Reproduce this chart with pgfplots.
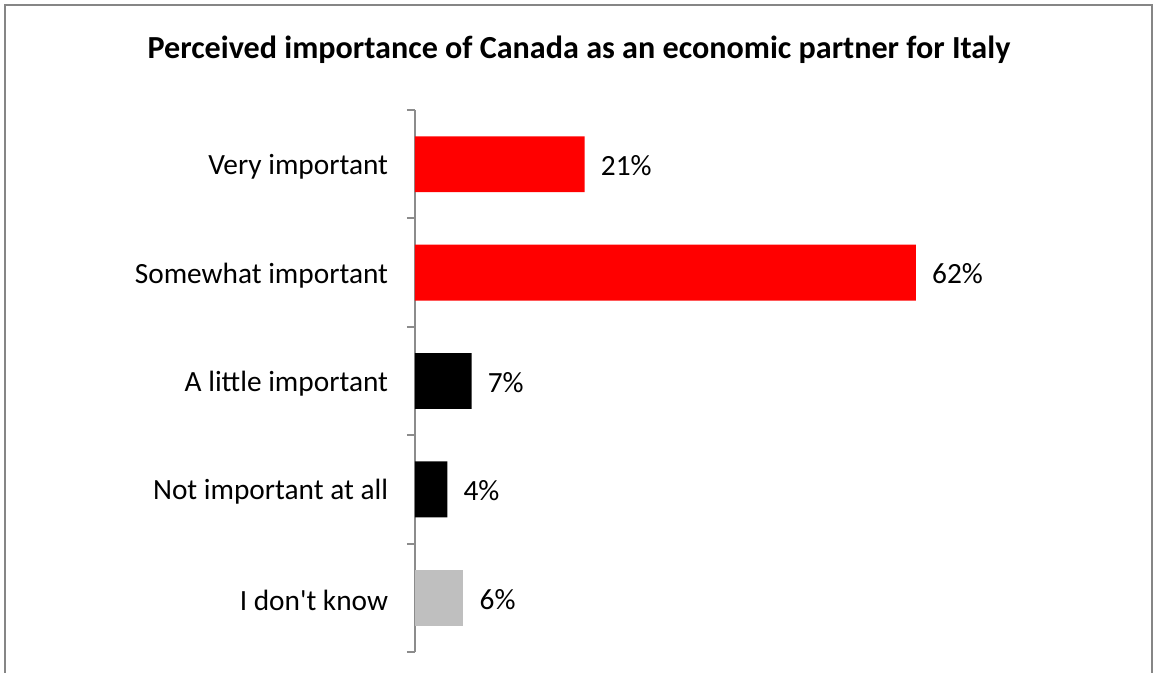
\documentclass[border=0pt]{standalone}
\usepackage{pgfplots}
\pgfplotsset{compat=1.18}
\usepackage{fontspec}
\setmainfont{Carlito}
\definecolor{framegray}{RGB}{134,134,134}
\definecolor{axgray}{RGB}{140,140,140}
\definecolor{barred}{RGB}{255,0,0}
\definecolor{bargray}{RGB}{191,191,191}
\begin{document}
\begin{tikzpicture}
\path[use as bounding box] (0pt,0pt) rectangle (865.5pt,-504pt);
\draw[framegray, line width=1.5pt] (3.4pt,-510pt) -- (3.4pt,-3.4pt) -- (864pt,-3.4pt) -- (864pt,-510pt);
\node[font=\fontsize{24.1}{29}\selectfont\bfseries] at (434.25pt,-37pt) {Perceived importance of Canada as an economic partner for Italy};
\begin{axis}[
  at={(311.25pt,-489pt)}, anchor=south west,
  scale only axis,
  width=484.8pt, height=406.5pt,
  xbar, bar shift=0pt, bar width=0.516,
  xmin=0, xmax=80,
  ymin=-0.5, ymax=4.5,
  y dir=reverse,
  axis y line*=left,
  axis x line=none,
  y axis line style={axgray, line width=1.5pt},
  ytick={0,1,2,3,4},
  yticklabels={Very important, Somewhat important, A little important, Not important at all, I don\textquotesingle t know},
  minor ytick={-0.5,0.5,1.5,2.5,3.5,4.5},
  major tick length=0pt,
  minor tick length=6pt,
  tick align=outside,
  minor tick style={axgray, line width=1.5pt},
  yticklabel style={font=\fontsize{22}{26}\selectfont, inner sep=0pt, xshift=-20pt, yshift=-2pt},
  /pgf/number format/assume math mode=true,
  point meta=x,
  nodes near coords={\pgfmathprintnumber{\pgfplotspointmeta}\%},
  nodes near coords align=horizontal,
  every node near coord/.append style={font=\fontsize{22}{26}\selectfont, black, anchor=west, inner sep=0pt, xshift=12pt, yshift=-1pt},
  clip=false,
]
\addplot[fill=barred, draw=none] coordinates {(21,0) (62,1)};
\addplot[fill=black, draw=none] coordinates {(7,2) (4,3)};
\addplot[fill=bargray, draw=none] coordinates {(6,4)};
\end{axis}
\end{tikzpicture}
\end{document}
